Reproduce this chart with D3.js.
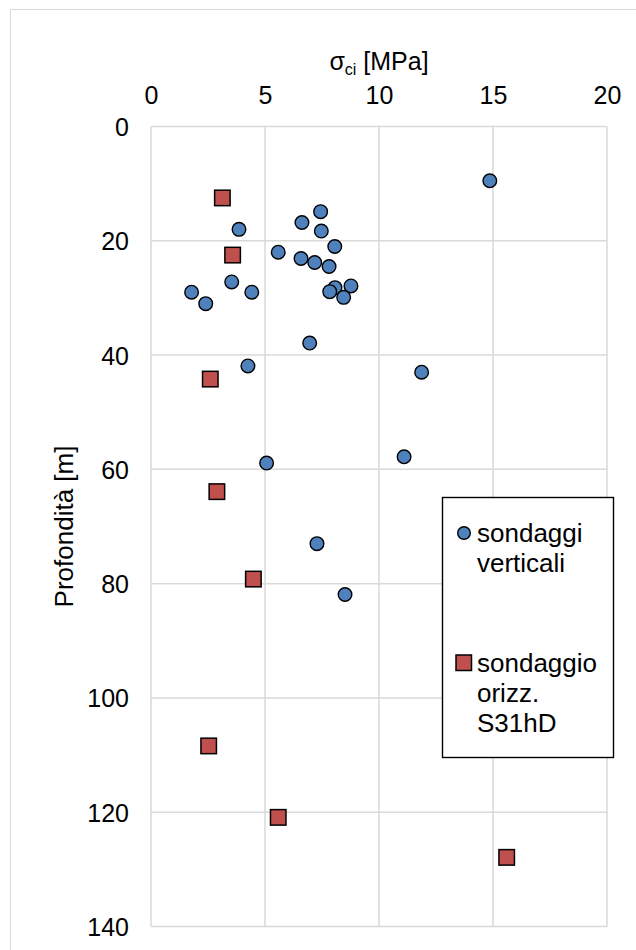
<!DOCTYPE html>
<html>
<head>
<meta charset="utf-8">
<script src="https://cdn.jsdelivr.net/npm/d3@7"></script>
<style>
  body { margin: 0; background: #fff; }
  svg text { font-family: "Liberation Sans", Arial, sans-serif; fill: #000; }
</style>
</head>
<body>
<svg width="636" height="950"></svg>
<script>
// sondaggi verticali: sigma_ci [MPa], profondità [m]
var vertSigma = [14.86, 7.44, 6.62, 3.86, 7.47, 8.06, 5.58, 6.58, 7.18, 7.81, 3.54, 8.77, 8.07, 7.84, 1.78, 4.42, 8.45, 2.40, 6.96, 4.25, 11.87, 11.10, 5.07, 7.28, 8.51];
var vertDepth = [9.5, 14.9, 16.8, 18.0, 18.3, 21.0, 22.0, 23.1, 23.8, 24.5, 27.2, 27.9, 28.2, 28.9, 29.0, 29.0, 29.9, 31.0, 37.9, 41.9, 43.0, 57.8, 58.9, 73.0, 81.9];
// sondaggio orizzontale S31hD
var horSigma = [3.13, 3.58, 2.60, 2.89, 4.49, 2.53, 5.58, 15.6];
var horDepth = [12.5, 22.5, 44.2, 63.9, 79.2, 108.4, 120.9, 127.9];

var xTicks = [0, 5, 10, 15, 20];
var yTicks = [0, 20, 40, 60, 80, 100, 120, 140];
var legendVert = ["sondaggi", "verticali"];
var legendHor = ["sondaggio", "orizz.", "S31hD"];

var svg = d3.select("svg");
var pLeft = 151, pRight = 607, pTop = 126.5, pBottom = 926.5;

// outer chart frame
svg.append("rect")
   .attr("x", 10.5).attr("y", 9.5)
   .attr("width", 700).attr("height", 1000)
   .attr("fill", "none").attr("stroke", "#d9d9d9");

var x = d3.scaleLinear().domain([0, 20]).range([pLeft, pRight]);
var y = d3.scaleLinear().domain([0, 140]).range([pTop, pBottom]);

// grid
svg.append("g")
   .selectAll("line").data(xTicks).enter().append("line")
   .attr("x1", function(d) { return x(d); }).attr("x2", function(d) { return x(d); })
   .attr("y1", pTop).attr("y2", pBottom)
   .attr("stroke", "#d9d9d9").attr("stroke-width", 1.5);
svg.append("g")
   .selectAll("line").data(yTicks).enter().append("line")
   .attr("y1", function(d) { return y(d); }).attr("y2", function(d) { return y(d); })
   .attr("x1", pLeft).attr("x2", pRight)
   .attr("stroke", "#d9d9d9").attr("stroke-width", 1.5);

// axes (labels only, Excel style)
var xAxis = svg.append("g")
   .attr("transform", "translate(0," + (pTop - 23) + ")")
   .call(d3.axisTop(x).tickValues(xTicks).tickSize(0).tickPadding(0));
xAxis.select(".domain").remove();
xAxis.selectAll("text").attr("font-size", 25).attr("dy", 0)
   .attr("font-family", "Liberation Sans, Arial, sans-serif");

var yAxis = svg.append("g")
   .attr("transform", "translate(" + (pLeft - 22) + ",0)")
   .call(d3.axisLeft(y).tickValues(yTicks).tickSize(0).tickPadding(0));
yAxis.select(".domain").remove();
yAxis.selectAll("text").attr("font-size", 25).attr("dy", "0.36em")
   .attr("font-family", "Liberation Sans, Arial, sans-serif");

// titles
var xt = svg.append("text")
   .attr("x", (pLeft + pRight) / 2).attr("y", 70)
   .attr("text-anchor", "middle").attr("font-size", 25);
xt.append("tspan").text("σ");
xt.append("tspan").attr("font-size", 16).attr("dy", 5).text("ci");
xt.append("tspan").attr("dy", -5).text(" [MPa]");

svg.append("text")
   .attr("transform", "translate(73," + ((pTop + pBottom) / 2) + ") rotate(-90)")
   .attr("text-anchor", "middle").attr("font-size", 26)
   .text("Profondità [m]");

// points
svg.append("g")
   .selectAll("circle").data(vertSigma).enter().append("circle")
   .attr("cx", function(d) { return x(d); })
   .attr("cy", function(d, i) { return y(vertDepth[i]); })
   .attr("r", 6.8)
   .attr("fill", "#4F81BD").attr("stroke", "#000").attr("stroke-width", 1.4);

var sq = 15.5;
svg.append("g")
   .selectAll("rect").data(horSigma).enter().append("rect")
   .attr("x", function(d) { return x(d) - sq / 2; })
   .attr("y", function(d, i) { return y(horDepth[i]) - sq / 2; })
   .attr("width", sq).attr("height", sq)
   .attr("fill", "#C0504D").attr("stroke", "#000").attr("stroke-width", 1.5);

// legend
var lg = svg.append("g");
lg.append("rect")
  .attr("x", 442.5).attr("y", 497.5).attr("width", 171).attr("height", 260)
  .attr("fill", "#fff").attr("stroke", "#000").attr("stroke-width", 1.4);
lg.append("circle")
  .attr("cx", 464).attr("cy", 533).attr("r", 6.3)
  .attr("fill", "#4F81BD").attr("stroke", "#000").attr("stroke-width", 1.4);
lg.selectAll("text.v").data(legendVert).enter().append("text")
  .attr("class", "v")
  .attr("x", 477).attr("y", function(d, i) { return 542 + i * 30; })
  .attr("font-size", 26).text(function(d) { return d; });
lg.append("rect")
  .attr("x", 456).attr("y", 655).attr("width", 15.5).attr("height", 15.5)
  .attr("fill", "#C0504D").attr("stroke", "#000").attr("stroke-width", 1.5);
lg.selectAll("text.h").data(legendHor).enter().append("text")
  .attr("class", "h")
  .attr("x", 477).attr("y", function(d, i) { return 672 + i * 30; })
  .attr("font-size", 26).text(function(d) { return d; });
</script>
</body>
</html>
